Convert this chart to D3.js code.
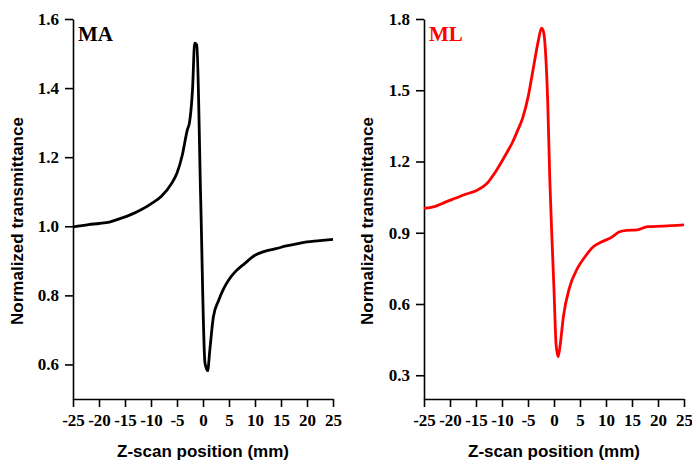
<!DOCTYPE html>
<html><head><meta charset="utf-8">
<script src="https://cdn.jsdelivr.net/npm/d3@7"></script>
<style>body{margin:0;background:#fff}svg{display:block}</style>
</head><body>
<svg id="c" width="692" height="461"></svg>
<script>
// Data
const maZ = [-25,-22,-20,-18,-16,-14,-12,-10,-8,-6,-5,-4,-3,-2.6,-2,-1.6,-1.2,-0.44,0.38,0.9,1.3,2,3,4,5,6,8,10,12,14,16,18,20,22,25];
const maT = [0.998,1.005,1.008,1.012,1.022,1.033,1.047,1.065,1.087,1.125,1.154,1.205,1.28,1.30,1.40,1.53,1.525,1.076,0.604,0.582,0.64,0.738,0.785,0.82,0.846,0.865,0.892,0.916,0.928,0.935,0.943,0.949,0.955,0.958,0.962];
const mlZ = [-25,-23,-21,-19,-17,-15,-13,-11,-9,-8,-7,-6,-5,-4,-3,-2.4,-2,-1.6,-1.2,-0.8,-0.4,0,0.4,0.8,1.2,1.8,3,4.5,6,7.5,9,11,12.5,14,16,18,21,25];
const mlT = [1.003,1.01,1.028,1.045,1.062,1.077,1.105,1.165,1.24,1.28,1.33,1.385,1.47,1.59,1.71,1.762,1.745,1.65,1.445,1.12,0.88,0.66,0.43,0.378,0.43,0.546,0.67,0.75,0.80,0.84,0.86,0.88,0.903,0.91,0.912,0.926,0.928,0.933];
const xTicks = [-25,-20,-15,-10,-5,0,5,10,15,20,25];
const maTicks = [0.6,0.8,1.0,1.2,1.4,1.6];
const mlTicks = [0.3,0.6,0.9,1.2,1.5,1.8];

const svg = d3.select("#c");

function panel(o){
  const g = svg.append("g");
  const x = d3.scaleLinear().domain([-25,25]).range([o.x0, o.x0+260]);
  const y = d3.scaleLinear().domain(o.ydom).range([399, 19]);
  const ax = g.append("g").attr("transform","translate(0,399)")
    .call(d3.axisBottom(x).tickValues(xTicks).tickFormat(d=>String(d)).tickSize(8).tickSizeOuter(0).tickPadding(7));
  const ay = g.append("g").attr("transform",`translate(${o.x0},0)`)
    .call(d3.axisLeft(y).tickValues(o.ticks).tickFormat(d=>d.toFixed(1)).tickSize(8).tickSizeOuter(0).tickPadding(6));
  [ax, ay].forEach(a=>{
    a.selectAll("path,line").attr("stroke","#000").attr("stroke-width",1.6);
    a.selectAll("text").attr("fill","#000")
      .style("font-family","'Liberation Serif','Times New Roman',serif")
      .style("font-weight","bold").style("font-size","17px");
  });
  const line = d3.line().x((d,i)=>x(o.z[i])).y(d=>y(d)).curve(o.curve);
  g.append("path").datum(o.t).attr("d",line).attr("fill","none")
    .attr("stroke",o.color).attr("stroke-width",2.8).attr("stroke-linejoin","round");
  g.append("text").attr("x",o.x0+5).attr("y",41).text(o.label)
    .attr("fill",o.color).style("font-family","'Liberation Serif','Times New Roman',serif")
    .style("font-weight","bold").style("font-size","21px");
  g.append("text").attr("x",o.x0+130).attr("y",457).attr("text-anchor","middle")
    .text("Z-scan position (mm)")
    .style("font-family","'Liberation Sans',Arial,sans-serif").style("font-weight","bold").style("font-size","17px");
  g.append("text").attr("transform",`translate(${o.ylx},221) rotate(-90)`).attr("text-anchor","middle")
    .text("Normalized transmittance")
    .style("font-family","'Liberation Sans',Arial,sans-serif").style("font-weight","bold").style("font-size","17px");
}

panel({x0:73, ydom:[0.5,1.6], ticks:maTicks, z:maZ, t:maT, color:"#000", label:"MA", ylx:23, curve:d3.curveMonotoneX});
panel({x0:424, ydom:[0.2,1.8], ticks:mlTicks, z:mlZ, t:mlT, color:"#ff0000", label:"ML", ylx:373, curve:d3.curveMonotoneX});
</script>
</body></html>
